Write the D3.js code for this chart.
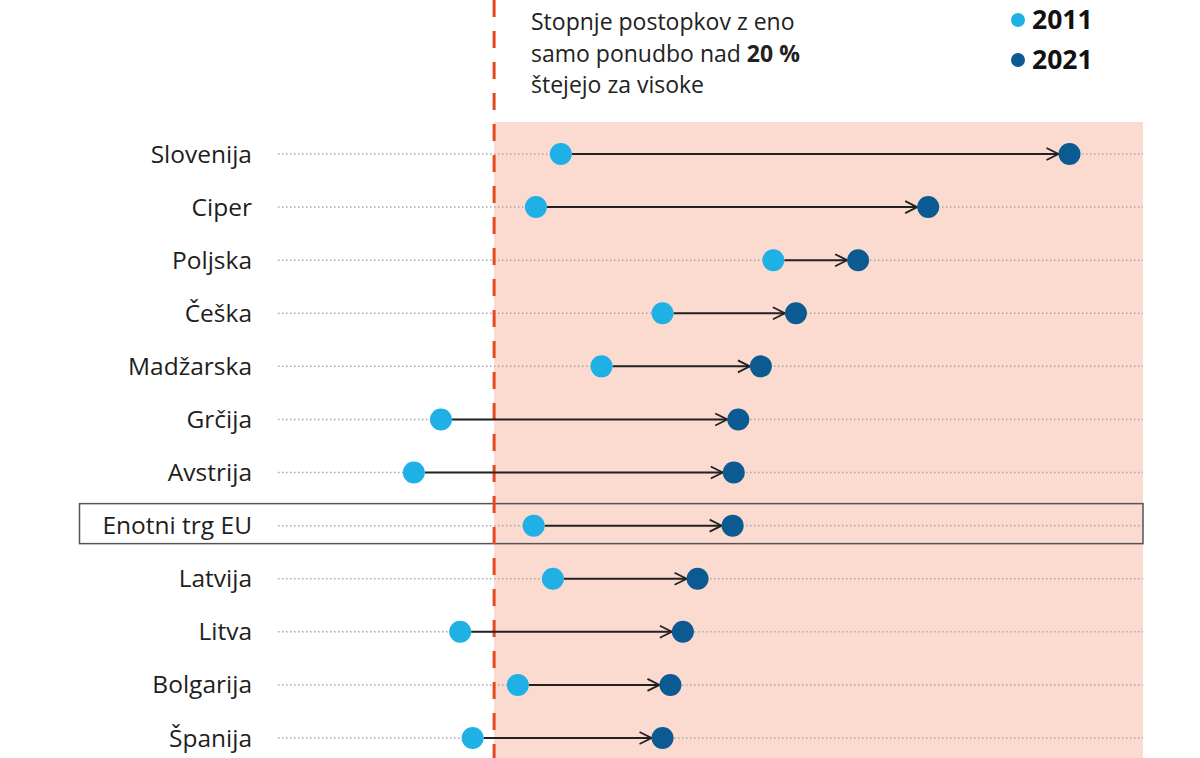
<!DOCTYPE html>
<html><head><meta charset="utf-8">
<script src="https://cdn.jsdelivr.net/npm/d3@7"></script>
<style>html,body{margin:0;padding:0;background:#fff}svg{display:block}</style>
</head><body>
<svg id="c" width="1200" height="758"></svg>
<script>
const categories = ["Slovenija","Ciper","Poljska","Češka","Madžarska","Grčija","Avstrija","Enotni trg EU","Latvija","Litva","Bolgarija","Španija"];
const values2011 = [25.9,23.7,44.7,34.9,29.5,15.3,12.9,23.5,25.2,17.0,22.1,18.1];
const values2021 = [70.9,58.4,52.2,46.7,43.6,41.6,41.2,41.1,38.0,36.7,35.6,34.9];
const threshold = 20;
const highlighted = "Enotni trg EU";
const seriesLabels = ["2011","2021"];

const font = "'Open Sans', sans-serif";
const c11 = "#1fb1e6", c21 = "#0c5a92";
const svg = d3.select("#c");
const x = d3.scaleLinear().domain([0, 77.4]).range([268, 1143]);
const y = d3.scalePoint().domain(categories).range([154, 738]);
const r = 11;

// pink zone
svg.append("rect").attr("x", x(threshold)).attr("y", 122)
  .attr("width", x.range()[1] - x(threshold)).attr("height", 758 - 122)
  .attr("fill", "#fbdad0");

// dotted guide lines
svg.append("g").selectAll("line").data(categories).join("line")
  .attr("x1", 278).attr("x2", x.range()[1])
  .attr("y1", d => y(d)).attr("y2", d => y(d))
  .attr("stroke", "#a8a8a8").attr("stroke-width", 1.5).attr("stroke-dasharray", "1.5,2.5");

// highlight box
svg.append("rect").attr("x", 79.5).attr("y", y(highlighted) - 22)
  .attr("width", x.range()[1] - 79.5).attr("height", 40)
  .attr("fill", "none").attr("stroke", "#555").attr("stroke-width", 1.5);

// threshold dashed line
svg.append("line").attr("x1", x(threshold)).attr("x2", x(threshold))
  .attr("y1", 0).attr("y2", 758)
  .attr("stroke", "#e8461e").attr("stroke-width", 3).attr("stroke-dasharray", "17,14");

// labels
svg.append("g").selectAll("text").data(categories).join("text")
  .attr("x", 252).attr("y", d => y(d)).attr("dy", "0.35em")
  .attr("text-anchor", "end").attr("font-family", font).attr("font-size", 24.5)
  .attr("font-weight", 500).attr("fill", "#1e1e1e").text(d => d);

// arrow marker
svg.append("defs").append("marker").attr("id", "arr")
  .attr("markerUnits", "userSpaceOnUse").attr("markerWidth", 16).attr("markerHeight", 16)
  .attr("viewBox", "0 0 16 16").attr("refX", 14).attr("refY", 8).attr("orient", "auto")
  .append("path").attr("d", "M2,2 L14,8 L2,14").attr("fill", "none")
  .attr("stroke", "#222").attr("stroke-width", 1.8);

const rows = categories.map((d, i) => ({cat: d, a: values2011[i], b: values2021[i]}));
svg.append("g").selectAll("line").data(rows).join("line")
  .attr("x1", d => x(d.a) + r).attr("x2", d => x(d.b) - r)
  .attr("y1", d => y(d.cat)).attr("y2", d => y(d.cat))
  .attr("stroke", "#222").attr("stroke-width", 2).attr("marker-end", "url(#arr)");

svg.append("g").selectAll("circle").data(rows).join("circle")
  .attr("cx", d => x(d.a)).attr("cy", d => y(d.cat)).attr("r", r).attr("fill", c11);
svg.append("g").selectAll("circle").data(rows).join("circle")
  .attr("cx", d => x(d.b)).attr("cy", d => y(d.cat)).attr("r", r).attr("fill", c21);

// annotation
const ann = svg.append("text").attr("font-family", font).attr("font-size", 23)
  .attr("font-weight", 500).attr("fill", "#222");
ann.append("tspan").attr("x", 531).attr("y", 30).text("Stopnje postopkov z eno");
ann.append("tspan").attr("x", 531).attr("y", 62).text("samo ponudbo nad ");
ann.append("tspan").attr("font-weight", "bold").text("20 %");
ann.append("tspan").attr("x", 531).attr("y", 93).text("štejejo za visoke");

// legend
const lg = svg.append("g");
seriesLabels.forEach((s, i) => {
  lg.append("circle").attr("cx", 1018).attr("cy", 20 + i * 40).attr("r", 7).attr("fill", i ? c21 : c11);
  lg.append("text").attr("x", 1032).attr("y", 29 + i * 40).attr("font-family", font)
    .attr("font-size", 26.5).attr("font-weight", "bold").attr("fill", "#111").text(s);
});
</script>
</body></html>
